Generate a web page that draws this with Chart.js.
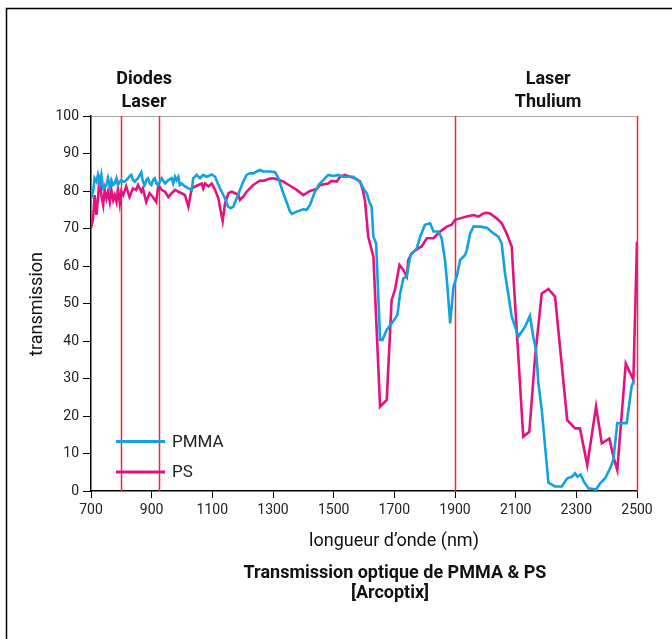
<!DOCTYPE html>
<html>
<head>
<meta charset="utf-8">
<script src="https://cdn.jsdelivr.net/npm/chart.js@4"></script>
<style>
  html, body { margin: 0; padding: 0; background: #fff; }
  #wrap { width: 672px; height: 639px; position: relative; }
</style>
</head>
<body>
<div id="wrap"><canvas id="spectre"></canvas></div>
<script>
// data (nm, transmission %)
const pmmaNm = [700,707,712,718,723,729,734,740,745,751,756,762,767,773,778,784,789,795,800,806,811,817,822,828,833,838,844,850,855,866,871,877,883,888,894,899,905,910,916,921,
  933,944,955,966,971,977,982,988,993,999,1010,1021,1032,1037,1048,1059,1070,1081,1098,1109,1120,1131,1142,1152,1160,1169,1180,1191,1202,1213,1224,1235,1246,1257,1268,1279,1290,
  1307,1318,1325,1334,1345,1356,1362,1378,1400,1411,1422,1438,1452,1466,1482,1499,1515,1532,1554,1565,1576,1587,1598,1609,1618,1625,1631,1640,1653,1661,1675,1691,1710,1719,1730,
  1741,1752,1763,1774,1785,1801,1818,1829,1845,1856,1867,1875,1884,1895,1906,1917,1933,1939,1950,1961,1983,2005,2027,2043,2054,2065,2087,2109,2131,2147,2158,2167,2175,2186,2208,
  2230,2252,2270,2285,2296,2304,2314,2325,2340,2365,2378,2395,2411,2422,2435,2466,2482,2490];
const pmmaT = [78,79.8,83.4,82.5,84.3,82,84.3,80.7,81,81.6,83.4,81,82.9,81.6,82,83.4,81.6,82.5,82.9,82.5,82.5,83,83.4,84,84.3,83,82.5,83,83.4,85,82.5,81.6,83,83.4,82,81.6,83,83.4,82,81.6,
  83.4,82,82.9,83.4,82,83.8,82.9,83.8,81.6,82,81.2,80.7,80.3,83.4,84.3,83.4,84.3,83.8,84.4,83.8,81.6,79.8,78,75.8,75.4,75.8,78,80.3,82.5,84.3,84.7,84.7,85.2,85.6,85.2,85.2,85.2,
  85,83.4,81.6,79.4,77,74.5,73.9,74.5,75.1,75,76.3,79.8,81.8,82.9,84.3,84,84.3,83.8,83.8,83.8,83,82.5,80.7,79.4,77,75.8,67.8,66,40.3,40.3,43,44.7,46.9,52.7,56.7,
  57.2,62.5,63.8,64.7,67.8,71,71.4,69.2,69.2,67.4,61.6,54.5,44.7,54.5,57.2,61.6,62.9,64.3,68.7,70.5,70.5,70.2,68.7,67.8,66,58,46.5,41.2,43.8,46.7,41.2,37.6,28.7,21.6,2.2,
  1.2,1.2,3.4,3.8,4.7,3.8,4.4,2.5,0.7,0.4,2,3.4,6,8.3,18.1,18.1,27.8,29.6];

const psNm = [700,707,712,718,723,729,734,740,745,751,756,762,767,773,778,784,789,795,800,806,816,827,838,849,855,866,871,882,893,904,915,922,933,944,955,966,977,988,999,1010,
  1021,1032,1043,1054,1065,1070,1076,1087,1098,1109,1120,1128,1134,1142,1153,1164,1175,1186,1191,1202,1213,1224,1235,1246,1257,1268,1279,1290,1301,1318,1334,1356,1378,1400,1422,
  1444,1455,1482,1493,1510,1521,1537,1554,1570,1587,1596,1603,1614,1631,1653,1675,1691,1702,1717,1730,1741,1746,1757,1779,1790,1807,1829,1851,1873,1889,1900,1917,1939,1961,1977,
  1994,2004,2015,2037,2054,2070,2087,2092,2125,2145,2164,2186,2208,2230,2246,2270,2296,2312,2336,2365,2384,2409,2422,2435,2463,2488,2500];
const psT = [70,72.7,78.9,73.6,78,84.3,78.9,76.3,80.3,78,79.8,77.1,80.3,77.6,78.9,77.1,80.7,76.7,79.8,78.9,81.2,78.4,80.7,80.3,81.6,79.8,80.7,77.1,79.4,78.4,77.1,81.6,80.3,79.8,78.4,79.4,80.3,79.8,79.4,78.9,
  75.8,80.7,81.2,81.6,82,80.7,82,81.2,82,80.3,78,74.5,72,76.7,79.4,79.8,79.4,79,77.6,78.5,79.8,80.7,81.6,82.2,82.8,82.7,83,83.3,83.4,83,82.5,81.4,80.3,78.9,80,
  80.5,81.6,82,82.7,82.5,83.8,84.3,83.8,83.4,82.5,80.3,77.6,67.8,62.5,22.5,24.3,50.9,53.6,60.3,58.9,57.2,61.6,63.4,64.7,65.2,67.4,67.4,69.2,70.5,71,72.3,72.7,73.2,73.6,73.2,
  74,74.2,74,72.7,71.4,68.7,65.2,58,14.5,15.8,35.8,52.7,53.9,51.8,38.5,18.9,16.7,16.7,6.9,22.5,12.7,14,9.2,5.6,34,29.6,66.5];

// laser wavelengths marked with red lines
const laserLines = [800, 925, 1900, 2500];
const laserLabels = [
  { nm: 875, lines: ['Diodes', 'Laser'] },
  { nm: 2207, lines: ['Laser', 'Thulium'] }
];

const FONT = 'Roboto, "Noto Sans", sans-serif';

const toPoints = (xs, ys) => xs.map((x, i) => ({ x: x, y: ys[i] }));

const decor = {
  id: 'decor',
  beforeDatasetsDraw(chart) {
    const { ctx, chartArea, scales } = chart;
    ctx.save();
    ctx.strokeStyle = '#ee2a32';
    ctx.lineWidth = 1.5;
    laserLines.forEach(nm => {
      const x = Math.round(scales.x.getPixelForValue(nm)) + 0.5;
      ctx.beginPath();
      ctx.moveTo(x, chartArea.top);
      ctx.lineTo(x, chartArea.bottom);
      ctx.stroke();
    });
    ctx.restore();
  },
  afterDraw(chart) {
    const { ctx, scales } = chart;
    ctx.save();
    // frame (left + top only visible)
    ctx.strokeStyle = '#000';
    ctx.lineWidth = 1.5;
    ctx.beginPath();
    ctx.moveTo(6.5, 640);
    ctx.lineTo(6.5, 8.5);
    ctx.lineTo(672, 8.5);
    ctx.stroke();

    ctx.fillStyle = '#111';
    ctx.textAlign = 'center';
    ctx.textBaseline = 'middle';
    ctx.font = 'bold 18px ' + FONT;
    laserLabels.forEach(l => {
      const x = scales.x.getPixelForValue(l.nm);
      ctx.fillText(l.lines[0], x, 79);
      ctx.fillText(l.lines[1], x, 102);
    });

    // axis titles
    ctx.font = '18px ' + FONT;
    ctx.fillText('longueur d\u2019onde (nm)', 394, 541);
    ctx.save();
    ctx.translate(37, 304);
    ctx.rotate(-Math.PI / 2);
    ctx.font = '18px ' + FONT;
    ctx.fillText('transmission', 0, 0);
    ctx.restore();

    // chart title
    ctx.font = 'bold 18px ' + FONT;
    ctx.fillText('Transmission optique de PMMA & PS', 395, 573);
    ctx.fillText('[Arcoptix]', 390, 593);

    // legend inside the plot
    const items = chart.data.datasets;
    const ys = [441.5, 472];
    ctx.textAlign = 'left';
    ctx.font = '17px ' + FONT;
    items.forEach((ds, i) => {
      ctx.strokeStyle = ds.borderColor;
      ctx.lineWidth = 3;
      ctx.beginPath();
      ctx.moveTo(116, ys[i]);
      ctx.lineTo(165, ys[i]);
      ctx.stroke();
      ctx.fillStyle = '#222';
      ctx.fillText(ds.label, 172, ys[i] + 1);
    });
    ctx.restore();
  }
};

new Chart(document.getElementById('spectre'), {
  type: 'line',
  data: {
    datasets: [
      { label: 'PMMA', data: toPoints(pmmaNm, pmmaT), borderColor: '#13a1e0', borderWidth: 2.6, pointRadius: 0, tension: 0 },
      { label: 'PS', data: toPoints(psNm, psT), borderColor: '#e2137e', borderWidth: 2.6, pointRadius: 0, tension: 0 }
    ]
  },
  options: {
    responsive: true,
    maintainAspectRatio: false,
    animation: false,
    layout: { padding: { left: 0, top: 116, right: 35, bottom: 108 } },
    plugins: {
      legend: { display: false },
      tooltip: { enabled: false }
    },
    scales: {
      x: {
        type: 'linear',
        min: 700,
        max: 2500,
        afterFit: s => { s.height = 40; },
        border: { color: '#000', width: 1.5 },
        grid: { drawOnChartArea: false, color: '#000', tickLength: 7 },
        ticks: {
          stepSize: 200,
          color: '#222',
          padding: 4,
          font: { family: FONT, size: 14 },
          callback: v => String(v)
        }
      },
      y: {
        min: 0,
        max: 100,
        afterFit: s => { s.width = 91; },
        border: { color: '#000', width: 1.5 },
        grid: {
          color: c => (c.tick && c.tick.value === 100 ? '#a8a8a8' : 'rgba(0,0,0,0)'),
          tickColor: '#000',
          tickLength: 8
        },
        ticks: { stepSize: 10, color: '#222', padding: 4, font: { family: FONT, size: 14 } }
      }
    }
  },
  plugins: [decor]
});
</script>
</body>
</html>
